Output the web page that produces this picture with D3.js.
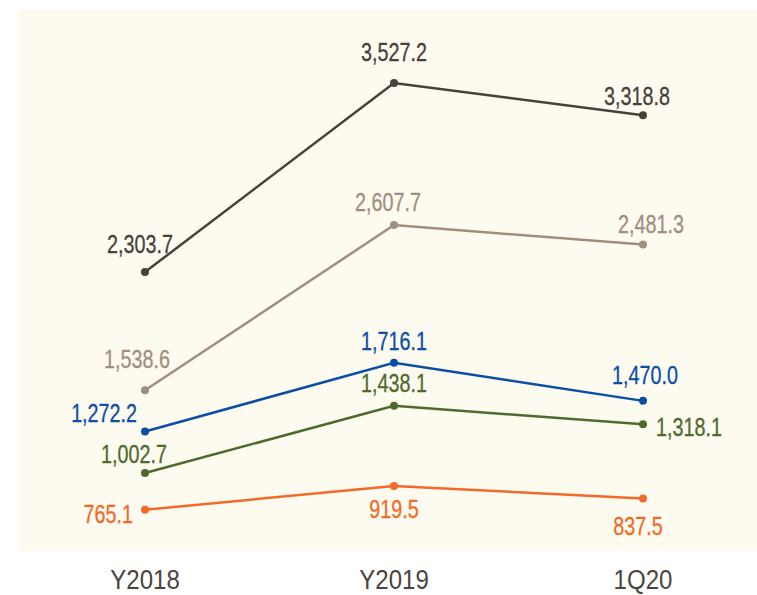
<!DOCTYPE html>
<html>
<head>
<meta charset="utf-8">
<script src="https://cdn.jsdelivr.net/npm/d3@7"></script>
<style>
  body { margin: 0; background: #fff; }
  text { font-family: "Liberation Sans", Arial, sans-serif; }
</style>
</head>
<body>
<script>
var categories = ["Y2018", "Y2019", "1Q20"];
var seriesColors = ["#46413b", "#a08f7e", "#0b4ea5", "#4e6a2d", "#f36a28"];
var darkValues = [2303.7, 3527.2, 3318.8];
var tanValues = [1538.6, 2607.7, 2481.3];
var blueValues = [1272.2, 1716.1, 1470.0];
var greenValues = [1002.7, 1438.1, 1318.1];
var orangeValues = [765.1, 919.5, 837.5];
var allValues = [darkValues, tanValues, blueValues, greenValues, orangeValues];

// where each label sits relative to its point: [dx, dy, anchor]
var labelPos = [
  [[-5, -19, "middle"], [0, -22, "middle"], [-6, -10, "middle"]],
  [[-8, -22, "middle"], [-6, -14, "middle"], [8, -12, "middle"]],
  [[-8, -9, "end"], [0, -13, "middle"], [2, -17, "middle"]],
  [[-11, -10, "middle"], [0, -14, "middle"], [13, 12, "start"]],
  [[-12, 13, "end"], [0, 32, "middle"], [-5, 36, "middle"]]
];

var svg = d3.select("body").append("svg")
        .attr("width", 757)
        .attr("height", 595);

svg.append("rect")
        .attr("x", 19).attr("y", 10)
        .attr("width", 738).attr("height", 541)
        .attr("fill", "#fdfaef");

var x = d3.scalePoint().domain(categories).range([145, 643]);
var y = d3.scaleLinear().domain([0, 3527.2]).range([628, 83]);

var line = d3.line()
        .x(function(d, i){ return x(categories[i]); })
        .y(function(d){ return y(d); });

allValues.forEach(function(vals, s){
  var g = svg.append("g");
  g.append("path")
        .attr("d", line(vals))
        .attr("fill", "none")
        .attr("stroke", seriesColors[s])
        .attr("stroke-width", 2.5);
  g.selectAll("circle")
        .data(vals)
        .enter().append("circle")
                .attr("cx", function(d, i){ return x(categories[i]); })
                .attr("cy", function(d){ return y(d); })
                .attr("r", 4)
                .attr("fill", seriesColors[s]);
  //condensed look: squeeze the text sideways
  g.selectAll("text")
        .data(vals)
        .enter().append("text")
                .attr("transform", function(d, i){
                  return "translate(" + (x(categories[i]) + labelPos[s][i][0]) + "," + (y(d) + labelPos[s][i][1]) + ") scale(0.79,1)";
                })
                .attr("text-anchor", function(d, i){ return labelPos[s][i][2]; })
                .attr("font-size", 25)
                .attr("fill", seriesColors[s])
                .attr("stroke", seriesColors[s])
                .attr("stroke-width", 0.3)
                .text(function(d){ return d3.format(",.1f")(d); });
});

svg.append("g")
        .selectAll("text")
        .data(categories)
        .enter().append("text")
                .attr("transform", function(d){ return "translate(" + x(d) + ",589) scale(0.86,1)"; })
                .attr("text-anchor", "middle")
                .attr("font-size", 28)
                .attr("fill", "#4a453f")
                .text(function(d){ return d; });
</script>
</body>
</html>
